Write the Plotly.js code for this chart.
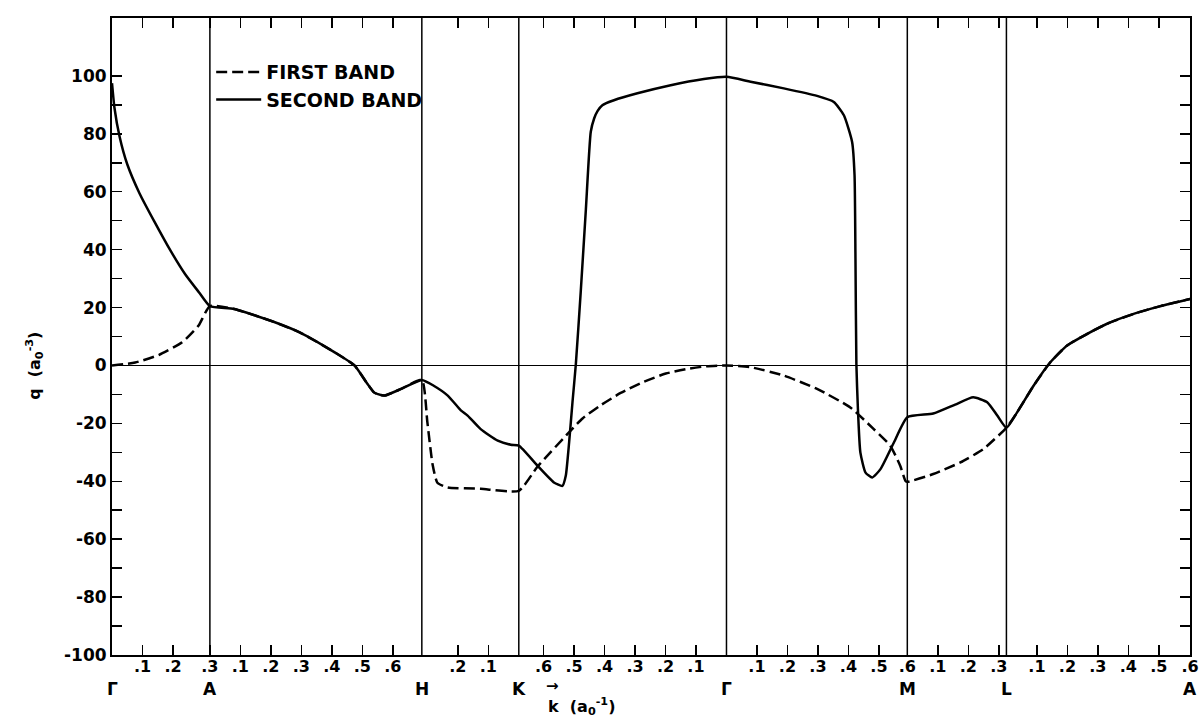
<!DOCTYPE html>
<html>
<head>
<meta charset="utf-8">
<script src="https://cdn.plot.ly/plotly-3.0.1.min.js"></script>
<style>html,body{margin:0;padding:0;background:#fff;}#chart{width:1199px;height:719px;}</style>
</head>
<body>
<div id="chart"></div>
<script>
// Symmetry points along the path (distance k in a0^-1)
const symLabels = ['Γ','A','H','K','Γ','M','L','A'];
const symK = [0, 0.321, 1.016, 1.334, 2.015, 2.608, 2.933, 3.535];

// Tick positions along the path and their labels
const tickK = [0.1,0.2,0.321, 0.421,0.521,0.621,0.721,0.821,0.921, 1.134,1.234,
  1.415,1.515,1.615,1.715,1.815,1.915, 2.115,2.215,2.315,2.415,2.515,2.608,
  2.708,2.808,2.908, 3.033,3.133,3.233,3.333,3.433,3.535];
const tickText = ['.1','.2','.3','.1','.2','.3','.4','.5','.6','.2','.1',
  '.6','.5','.4','.3','.2','.1','.1','.2','.3','.4','.5','.6',
  '.1','.2','.3','.1','.2','.3','.4','.5','.6'];

const yTickVals = [-100,-80,-60,-40,-20,0,20,40,60,80,100];
const yTickText = ['-100','-80','-60','-40','-20','0','20','40','60','80','100'];
const yMinorVals = [-90,-70,-50,-30,-10,10,30,50,70,90];

// First band
const kFirst = [0,0.076,0.153,0.23,0.284,0.321,
  0.401,0.532,0.620,0.729,0.795,0.838,0.859,0.872,0.894,0.948,1.016,
  1.034,1.051,1.067,1.100,1.209,1.334,
  1.395,1.504,1.543,1.603,1.668,1.740,1.816,1.887,1.947,2.015,
  2.094,2.203,2.312,2.421,2.498,2.552,2.585,2.602,2.608,
  2.693,2.782,2.857,2.933,
  2.968,3.022,3.077,3.132,3.198,3.263,3.350,3.438,3.535];
const qFirst = [0,1,3.6,8,13.8,20.5,
  19.5,15,11.2,4.6,0,-6.4,-9.3,-9.9,-10.4,-8.1,-5.0,
  -19.5,-34,-40.5,-42.1,-42.6,-43.3,
  -35,-22.5,-18.3,-13.7,-9.5,-5.8,-2.8,-1.2,-0.3,0,
  -0.6,-3.5,-8.1,-14.5,-22,-27.7,-34.7,-39.9,-40.2,
  -37.5,-33.5,-28.9,-21.5,
  -16.2,-7,1.1,6.9,10.9,14.4,17.8,20.5,23];

// Second band
const kSecond = [0,0.008,0.025,0.05,0.09,0.14,0.19,0.24,0.285,0.321,
  0.401,0.532,0.620,0.729,0.795,0.838,0.859,0.872,0.894,0.948,1.016,
  1.055,1.101,1.144,1.167,1.209,1.265,1.308,1.334,
  1.396,1.449,1.477,1.488,1.499,1.510,1.521,1.537,1.554,1.570,1.581,1.593,1.608,1.646,1.723,1.832,1.941,2.015,
  2.094,2.203,2.312,2.367,2.400,2.427,2.435,2.438,2.441,2.446,2.454,2.471,2.493,2.520,2.564,2.608,
  2.693,2.765,2.824,2.870,2.903,2.933,
  2.968,3.022,3.077,3.132,3.198,3.263,3.350,3.438,3.535];
const qSecond = [97.5,89,79,69.5,59.5,49.5,40,31.5,25.3,20.5,
  19.5,15,11.2,4.6,0,-6.4,-9.3,-9.9,-10.4,-8.1,-5.0,
  -7,-10.4,-15.5,-17.4,-22,-26,-27.4,-27.7,
  -34.7,-40.4,-41.6,-38.1,-26.6,-12.7,0.4,25.3,54,80.7,85.3,88,89.9,91.6,94,96.8,98.9,99.7,
  98,95.7,93.1,91,86.4,77.2,65.7,36.9,0.4,-15,-30,-37,-38.7,-35.8,-26.6,-17.9,
  -16.6,-13.5,-11.0,-12.7,-17.3,-21.5,
  -16.2,-7,1.1,6.9,10.9,14.4,17.8,20.5,23];

const FONT = 'DejaVu Sans, Liberation Sans, sans-serif';

const traces = [
  {x: kFirst, y: qFirst, type: 'scatter', mode: 'lines', name: 'FIRST BAND',
   line: {color: '#000', width: 2.5, dash: '11px,5px', shape: 'spline', smoothing: 0.5}},
  {x: kSecond, y: qSecond, type: 'scatter', mode: 'lines', name: 'SECOND BAND',
   line: {color: '#000', width: 2.5, shape: 'spline', smoothing: 0.5}}
];

const shapes = symK.slice(1, -1).map(k => ({
  type: 'line', xref: 'x', yref: 'paper', x0: k, x1: k, y0: 0, y1: 1,
  line: {color: '#000', width: 1.5}
}));

const annotations = symLabels.map((s, i) => ({
  x: symK[i], xref: 'x', y: -0.0535, yref: 'paper', text: s, showarrow: false,
  xanchor: 'center', yanchor: 'middle',
  font: {family: FONT, size: 17, color: '#000', weight: 'bold'}
}));
annotations.push({
  x: -0.072, xref: 'paper', y: 0, yref: 'y', text: 'q  (a<sub>0</sub><sup>-3</sup>)',
  textangle: -90, showarrow: false, xanchor: 'center', yanchor: 'middle',
  font: {family: FONT, size: 16, color: '#000', weight: 'bold'}
});
annotations.push({
  x: 0.4005, xref: 'paper', y: -0.049, yref: 'paper', text: '→',
  showarrow: false, xanchor: 'left', yanchor: 'middle',
  font: {family: FONT, size: 15, color: '#000', weight: 'bold'}
});
annotations.push({
  x: 0.403, xref: 'paper', y: -0.0805, yref: 'paper', text: 'k  (a<sub>0</sub><sup>-1</sup>)',
  showarrow: false, xanchor: 'left', yanchor: 'middle',
  font: {family: FONT, size: 16, color: '#000', weight: 'bold'}
});

const layout = {
  width: 1199, height: 719,
  margin: {l: 112, r: 9, t: 18, b: 64, pad: 0},
  paper_bgcolor: '#fff', plot_bgcolor: '#fff',
  showlegend: true,
  legend: {x: 0.092, y: 0.945, xanchor: 'left', yanchor: 'top', bgcolor: 'rgba(0,0,0,0)',
    font: {family: FONT, size: 19, color: '#000', weight: 'bold'}, itemwidth: 45, tracegroupgap: 0},
  xaxis: {
    range: [0, 3.535], showgrid: false, zeroline: false,
    showline: true, linecolor: '#000', linewidth: 2, mirror: 'ticks',
    ticks: 'inside', ticklen: 10, tickwidth: 1.5, tickcolor: '#000',
    tickmode: 'array', tickvals: tickK, ticktext: tickText, ticklabelstandoff: -4,
    tickfont: {family: FONT, size: 16, color: '#000', weight: 'bold'}
  },
  yaxis: {
    range: [-100, 120], showgrid: false,
    zeroline: true, zerolinecolor: '#000', zerolinewidth: 1.5,
    showline: true, linecolor: '#000', linewidth: 2, mirror: 'ticks',
    ticks: 'inside', ticklen: 10, tickwidth: 1.5, tickcolor: '#000',
    tickmode: 'array', tickvals: yTickVals, ticktext: yTickText,
    minor: {tickmode: 'array', tickvals: yMinorVals, ticks: 'inside', ticklen: 10,
      tickwidth: 1.5, tickcolor: '#000', showgrid: false},
    tickfont: {family: FONT, size: 17, color: '#000', weight: 'bold'}
  },
  shapes: shapes,
  annotations: annotations
};

Plotly.newPlot('chart', traces, layout, {displayModeBar: false, staticPlot: true});
</script>
</body>
</html>
